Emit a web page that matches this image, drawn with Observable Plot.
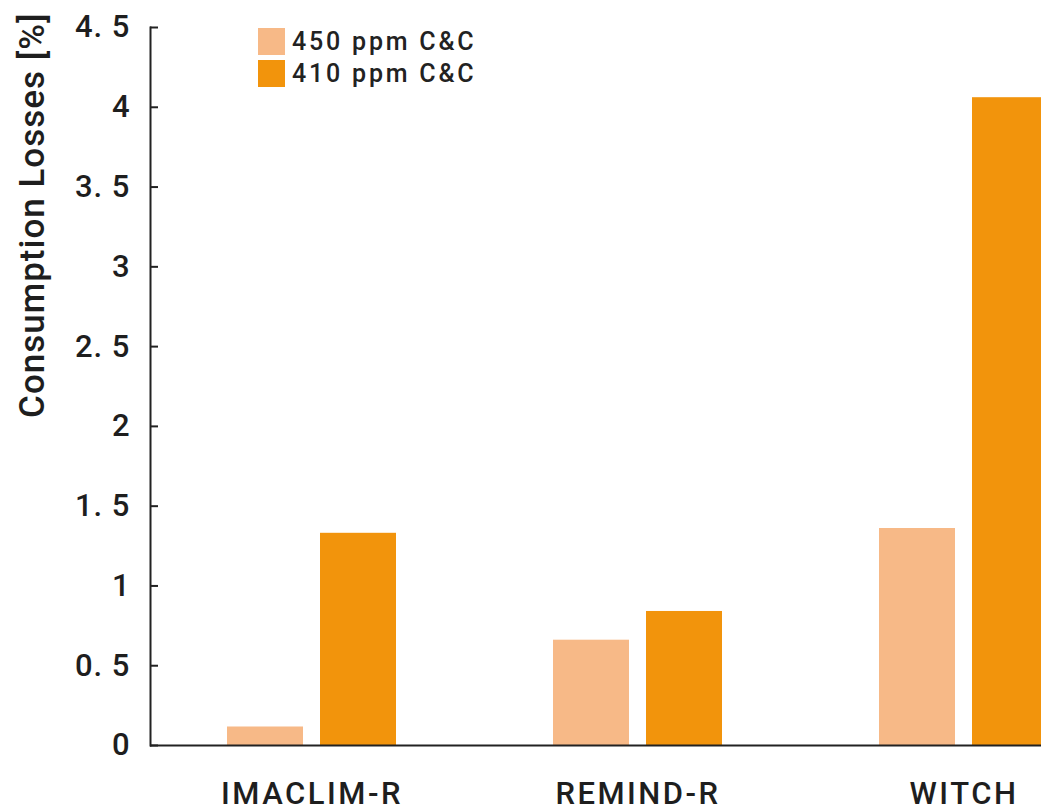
<!DOCTYPE html>
<html>
<head>
<meta charset="utf-8">
<script src="https://cdn.jsdelivr.net/npm/d3@7"></script>
<script src="https://cdn.jsdelivr.net/npm/@observablehq/plot@0.6"></script>
<style>
  html, body { margin: 0; padding: 0; background: #fff; }
  #wrap { position: relative; width: 1041px; height: 812px; overflow: hidden; font-family: Roboto, sans-serif; }
  #wrap svg { max-width: none !important; width: 1124px; height: 812px; }
  #wrap svg g[aria-label="x-axis tick label"] text { letter-spacing: 2.5px; }
  #wrap svg g[aria-label="y-axis tick label"] text { letter-spacing: 1px; }
  #wrap svg g[aria-label="text"] text { letter-spacing: 1px; }
  #legend { position: absolute; left: 258px; top: 28px; }
  .row { display: flex; align-items: center; height: 27px; margin-bottom: 5px; }
  .sw { width: 27px; height: 27px; margin-right: 7px; }
  .lab { font-size: 25px; font-weight: 500; color: #222; letter-spacing: 2.8px; }
</style>
</head>
<body>
<div id="wrap"></div>
<script>
const models = ["IMACLIM-R", "REMIND-R", "WITCH"];
const scenarios = ["450 ppm C&C", "410 ppm C&C"];
const values450 = [0.116, 0.66, 1.36];
const values410 = [1.33, 0.84, 4.06];
const yTicks = [0, 0.5, 1, 1.5, 2, 2.5, 3, 3.5, 4, 4.5];
const colors = ["#f7b987", "#f2940c"];
const yTitle = "Consumption Losses [%]";

const data450 = models.map((m, i) => ({model: m, value: values450[i]}));
const data410 = models.map((m, i) => ({model: m, value: values410[i]}));
const fmt = d => Number.isInteger(d) ? String(d) : String(d).replace(".", ". ");

const chart = Plot.plot({
  width: 1124,
  height: 812,
  marginLeft: 150,
  marginRight: 0,
  marginTop: 27,
  marginBottom: 67,
  style: {fontFamily: "Roboto, sans-serif", color: "#1e1e1e", background: "#fff", maxWidth: "none", overflow: "visible"},
  x: {domain: models, paddingInner: 0.4824, paddingOuter: 0.2328, label: null},
  y: {domain: [0, 4.5], label: null},
  marks: [
    Plot.barY(data450, {x: "model", y: "value", fill: colors[0], insetRight: 93}),
    Plot.barY(data410, {x: "model", y: "value", fill: colors[1], insetLeft: 93}),
    Plot.ruleY([0], {stroke: "#222", strokeWidth: 2}),
    Plot.frame({anchor: "left", stroke: "#222", strokeWidth: 2}),
    Plot.axisY({ticks: yTicks, tickSize: 0, tickPadding: 20, tickFormat: fmt, fontSize: 31, fontWeight: 500, label: null}),
    Plot.axisY({ticks: yTicks, tickSize: -8, text: null, label: null, stroke: "#222", strokeWidth: 2}),
    Plot.axisX({tickSize: 0, tickPadding: 36, fontSize: 31, fontWeight: 500, label: null}),
    Plot.text([yTitle], {text: d => d, frameAnchor: "top-left", rotate: -90, textAnchor: "end", lineAnchor: "middle",
      dx: -118, dy: -15, fontSize: 35, fontWeight: 500, fill: "#1e1e1e"})
  ]
});
document.getElementById("wrap").appendChild(chart);

const legend = document.createElement("div");
legend.id = "legend";
scenarios.forEach((s, i) => {
  const row = document.createElement("div");
  row.className = "row";
  const sw = document.createElement("div");
  sw.className = "sw";
  sw.style.background = colors[i];
  const lab = document.createElement("span");
  lab.className = "lab";
  lab.textContent = s;
  row.appendChild(sw);
  row.appendChild(lab);
  legend.appendChild(row);
});
document.getElementById("wrap").appendChild(legend);
</script>
</body>
</html>
